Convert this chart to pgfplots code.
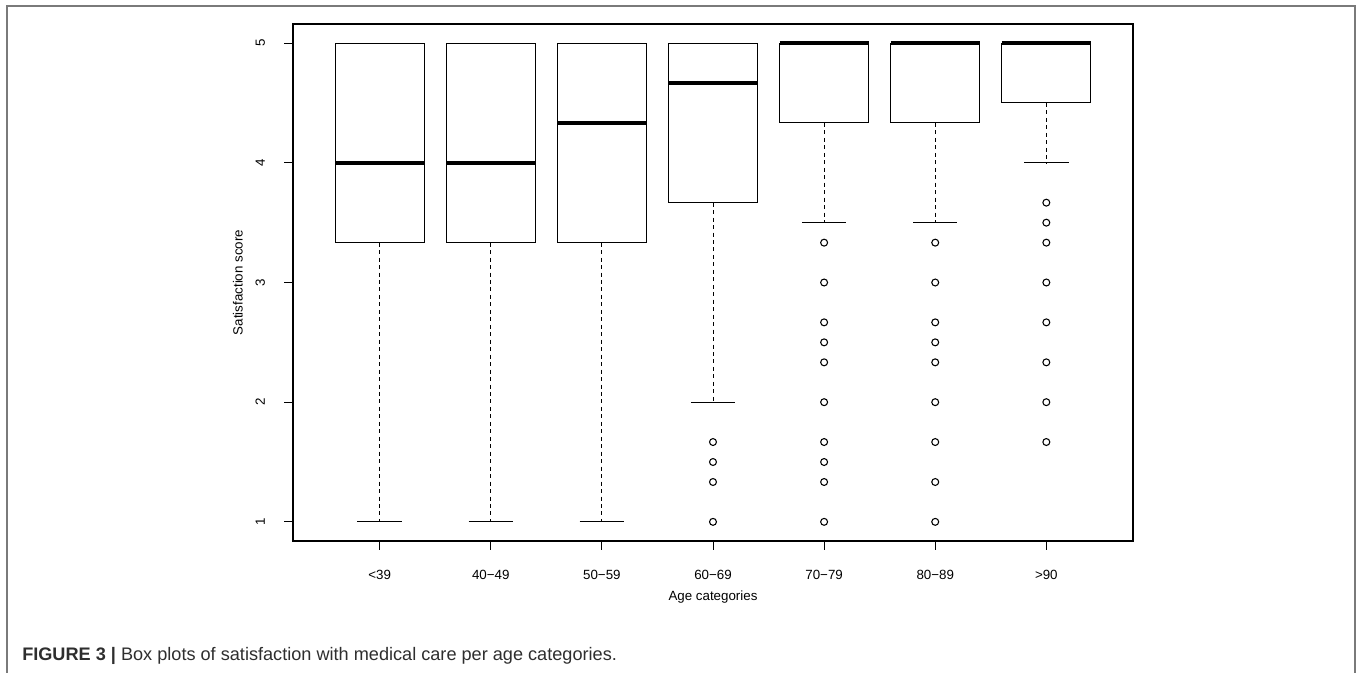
\documentclass[border=0pt]{standalone}
\usepackage{fontspec}
\setmainfont{Liberation Sans}
\usepackage{pgfplots}
\pgfplotsset{compat=1.18}
\usepgfplotslibrary{statistics}
\definecolor{framegray}{HTML}{7A7A7A}
\definecolor{captext}{HTML}{2E2E2E}
\begin{document}
\begin{tikzpicture}
\begin{scope}[x=0.75pt,y=-0.75pt]
\useasboundingbox (0,0) rectangle (1357,673);
\draw[framegray, line width=1.4pt] (7,680) -- (7,6) -- (1355,6) -- (1355,680);
\node[anchor=base west, text=captext, font=\fontsize{13.6}{16}\selectfont, inner sep=0pt] at (22,660)
  {\textbf{FIGURE 3 |} Box plots of satisfaction with medical care per age categories.};
\end{scope}
\begin{axis}[
  at={(219.75pt,-405.75pt)}, anchor=south west,
  width=630pt, height=387.75pt, scale only axis,
  xmin=0.22, xmax=7.78, ymin=0.84, ymax=5.16,
  axis line style={line width=0.9pt},
  xtick={1,2,3,4,5,6,7},
  xticklabels={<39,40−49,50−59,60−69,70−79,80−89,>90},
  ytick={1,2,3,4,5},
  tick align=outside, major tick length=6.5pt,
  tick style={black, line width=0.75pt},
  xtick pos=bottom, ytick pos=left,
  /pgf/number format/assume math mode=true,
  tick label style={font=\fontsize{10}{12}\selectfont},
  xticklabel style={anchor=center, yshift=-18.75pt},
  yticklabel style={xshift=-18pt, rotate=90, anchor=center},
  xlabel={Age categories},
  ylabel={Satisfaction score},
  label style={font=\fontsize{10}{12}\selectfont},
  xlabel style={at={(axis description cs:0.5,-0.1083)}, anchor=center},
  ylabel style={at={(axis description cs:-0.0655,0.5)}, anchor=center},
  boxplot/draw direction=y,
  boxplot/box extend=0.8,
  boxplot/whisker extend=0.4,
  boxplot/every box/.style={draw=black, line width=0.75pt},
  boxplot/every median/.style={draw=black, line width=2.6pt},
  boxplot/draw/lower whisker/.code={%
    \draw[black, line width=0.75pt, dash pattern=on 3pt off 2.6pt]
      (boxplot cs:\pgfplotsboxplotvalue{lower quartile}) --
      (boxplot cs:\pgfplotsboxplotvalue{lower whisker});
    \draw[black, line width=0.75pt]
      (boxplot whisker cs:\pgfplotsboxplotvalue{lower whisker},0) --
      (boxplot whisker cs:\pgfplotsboxplotvalue{lower whisker},1);
  },
  boxplot/draw/upper whisker/.code={%
    \draw[black, line width=0.75pt]
      (boxplot whisker cs:\pgfplotsboxplotvalue{upper whisker},0) --
      (boxplot whisker cs:\pgfplotsboxplotvalue{upper whisker},1);
  },
  every axis plot/.append style={black, mark=o, mark size=2.6pt, mark options={solid, line width=0.8pt}},
]
\addplot[boxplot prepared={draw position=1, lower whisker=1, lower quartile=3.333, median=4, upper quartile=5, upper whisker=5}] coordinates {};
\addplot[boxplot prepared={draw position=2, lower whisker=1, lower quartile=3.333, median=4, upper quartile=5, upper whisker=5}] coordinates {};
\addplot[boxplot prepared={draw position=3, lower whisker=1, lower quartile=3.333, median=4.333, upper quartile=5, upper whisker=5}] coordinates {};
\addplot[boxplot prepared={draw position=4, lower whisker=2, lower quartile=3.667, median=4.667, upper quartile=5, upper whisker=5}]
  coordinates {(4,1.667) (4,1.5) (4,1.333) (4,1)};
\addplot[boxplot prepared={draw position=5, lower whisker=3.5, lower quartile=4.333, median=5, upper quartile=5, upper whisker=5}]
  coordinates {(5,3.333) (5,3) (5,2.667) (5,2.5) (5,2.333) (5,2) (5,1.667) (5,1.5) (5,1.333) (5,1)};
\addplot[boxplot prepared={draw position=6, lower whisker=3.5, lower quartile=4.333, median=5, upper quartile=5, upper whisker=5}]
  coordinates {(6,3.333) (6,3) (6,2.667) (6,2.5) (6,2.333) (6,2) (6,1.667) (6,1.333) (6,1)};
\addplot[boxplot prepared={draw position=7, lower whisker=4, lower quartile=4.5, median=5, upper quartile=5, upper whisker=5}]
  coordinates {(7,3.667) (7,3.5) (7,3.333) (7,3) (7,2.667) (7,2.333) (7,2) (7,1.667)};
\end{axis}
\end{tikzpicture}
\end{document}
